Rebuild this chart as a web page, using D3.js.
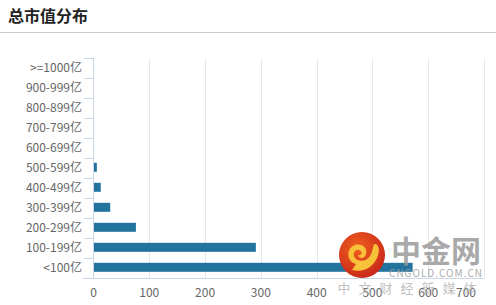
<!DOCTYPE html>
<html>
<head>
<meta charset="utf-8">
<script src="https://cdn.jsdelivr.net/npm/d3@7"></script>
<style>
  html, body { margin: 0; padding: 0; background: #fff; }
  body { width: 496px; height: 305px; overflow: hidden; font-family: "Noto Sans CJK SC", "Noto Sans", sans-serif; }
</style>
</head>
<body>
<svg id="chart" width="496" height="305"></svg>
<script>
// ----------------------------------------------------------
// Data
// ----------------------------------------------------------
const categories = ['>=1000亿', '900-999亿', '800-899亿', '700-799亿', '600-699亿',
  '500-599亿', '400-499亿', '300-399亿', '200-299亿', '100-199亿', '<100亿'];
const counts = [1, 0, 0, 1, 1, 6, 13, 30, 76, 291, 572];
const xTicks = [0, 100, 200, 300, 400, 500, 600, 700];
const title = '总市值分布';

const COLORS = {
  bar: '#22749f',
  axis: '#ccd6eb',
  grid: '#e6e6e6',
  label: '#666666',
  title: '#222222',
};

const svg = d3.select('#chart');

// ----------------------------------------------------------
// Header
// ----------------------------------------------------------
svg.append('text')
  .attr('x', 8)
  .attr('y', 16)
  .attr('dy', '0.35em')
  .attr('font-size', 16)
  .attr('font-weight', 'bold')
  .attr('fill', COLORS.title)
  .text(title);

svg.append('line')
  .attr('x1', 0).attr('x2', 496)
  .attr('y1', 32.5).attr('y2', 32.5)
  .attr('stroke', '#c8c8c8');

// ----------------------------------------------------------
// Scales
// ----------------------------------------------------------
const plotTop = 58, plotBottom = 278;
const x = d3.scaleLinear().domain([0, 700]).range([93.5, 484]);
const y = d3.scaleBand().domain(categories).range([plotTop, plotBottom]).padding(0);
const bw = y.bandwidth();

// vertical grid lines
svg.append('g')
  .selectAll('line')
  .data(xTicks.filter((d) => d > 0))
  .enter()
  .append('line')
  .attr('x1', (d) => Math.round(x(d)) + 0.5)
  .attr('x2', (d) => Math.round(x(d)) + 0.5)
  .attr('y1', plotTop + 1)
  .attr('y2', plotBottom)
  .attr('stroke', COLORS.grid);

// bars
svg.append('g')
  .selectAll('rect')
  .data(categories)
  .enter()
  .append('rect')
  .attr('x', x(0))
  .attr('y', (d) => y(d) + bw * 0.24)
  .attr('width', (d, i) => x(counts[i]) - x(0))
  .attr('height', bw * 0.45)
  .attr('fill', COLORS.bar);

// y axis (left, ticks between categories)
const yAxis = svg.append('g');
yAxis.append('line')
  .attr('x1', 93.5).attr('x2', 93.5)
  .attr('y1', plotTop).attr('y2', plotBottom)
  .attr('stroke', COLORS.axis);

const boundaries = categories.map((c) => y(c)).concat([plotBottom]);
yAxis.selectAll('line.tick')
  .data(boundaries)
  .enter()
  .append('line')
  .attr('class', 'tick')
  .attr('x1', 84).attr('x2', 93.5)
  .attr('y1', (d) => Math.round(d) + 0.5)
  .attr('y2', (d) => Math.round(d) + 0.5)
  .attr('stroke', COLORS.axis);

yAxis.selectAll('text')
  .data(categories)
  .enter()
  .append('text')
  .attr('x', 82)
  .attr('y', (d) => y(d) + bw / 2)
  .attr('dy', '0.35em')
  .attr('text-anchor', 'end')
  .attr('font-size', 12)
  .attr('fill', COLORS.label)
  .text((d) => d);

// x axis (bottom)
const xAxis = svg.append('g');
xAxis.append('line')
  .attr('x1', 83).attr('x2', 484)
  .attr('y1', plotBottom + 0.5).attr('y2', plotBottom + 0.5)
  .attr('stroke', COLORS.axis);

xAxis.selectAll('text')
  .data(xTicks)
  .enter()
  .append('text')
  .attr('x', (d, i) => (i === xTicks.length - 1 ? 476 : x(d)))
  .attr('y', 293)
  .attr('dy', '0.35em')
  .attr('text-anchor', (d, i) => (i === xTicks.length - 1 ? 'end' : 'middle'))
  .attr('font-size', 12)
  .attr('fill', COLORS.label)
  .text((d) => d);

// ----------------------------------------------------------
// Watermark (logo + site name)
// ----------------------------------------------------------
const wm = svg.append('g');
const defs = svg.append('defs');
const grad = defs.append('radialGradient').attr('id', 'logoGrad')
  .attr('cx', '40%').attr('cy', '35%').attr('r', '70%');
grad.append('stop').attr('offset', '0%').attr('stop-color', '#f0601e');
grad.append('stop').attr('offset', '100%').attr('stop-color', '#c8261a');

wm.append('circle')
  .attr('cx', 362).attr('cy', 255).attr('r', 23)
  .attr('fill', 'url(#logoGrad)');
wm.append('path')
  .attr('d', 'M356,264 C347,262 346,250 353,246 C360,242 368,247 366,254 C365,259 359,259 358,255 C362,256 363,251 359,250 C355,249 352,254 355,258 C358,262 366,262 370,256 C374,250 372,243 376,244 C381,247 379,258 373,264 C368,270 360,272 352,270 Z')
  .attr('fill', '#f7c23a');

wm.append('text')
  .attr('x', 436).attr('y', 251)
  .attr('dy', '0.35em')
  .attr('text-anchor', 'middle')
  .attr('font-size', 30)
  .attr('font-weight', 'bold')
  .attr('fill', '#9a9a9a')
  .attr('fill-opacity', 0.85)
  .text('中金网');

wm.append('text')
  .attr('x', 436).attr('y', 273)
  .attr('dy', '0.35em')
  .attr('text-anchor', 'middle')
  .attr('font-size', 10)
  .attr('letter-spacing', 1)
  .attr('fill', '#a0a0a0')
  .attr('fill-opacity', 0.9)
  .text('CNGOLD.COM.CN');

wm.append('text')
  .attr('x', 411).attr('y', 288)
  .attr('dy', '0.35em')
  .attr('text-anchor', 'middle')
  .attr('font-size', 13)
  .attr('letter-spacing', 8)
  .attr('fill', '#b0b0b0')
  .attr('fill-opacity', 0.8)
  .text('中文财经新媒体');
</script>
</body>
</html>
